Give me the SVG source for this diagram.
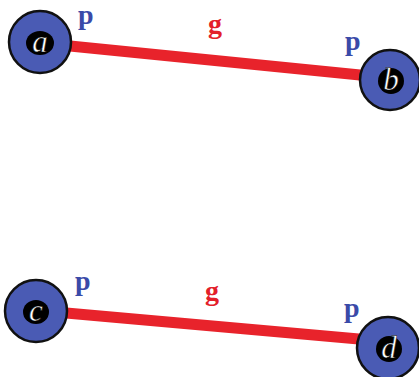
<svg xmlns="http://www.w3.org/2000/svg" width="419" height="377" viewBox="0 0 419 377">
<style>
.node{fill:#4a5bb4;stroke:#111;stroke-width:2.5}
.core{fill:#000}
.nl{font-family:"Liberation Serif","Times New Roman",serif;font-style:italic;font-size:31px;fill:#fff;stroke:#000;stroke-width:0.5;text-anchor:middle}
.p{font-family:"Liberation Serif","Times New Roman",serif;font-weight:bold;font-size:28px;fill:#3a4aa8}
.g{font-family:"Liberation Serif","Times New Roman",serif;font-weight:bold;font-size:28px;fill:#e3202a}
.edge{stroke:#e8232b;stroke-width:11;fill:none}
</style>
<rect width="419" height="377" fill="#fff"/>
<g id="connectors">
<line class="edge" x1="60" y1="45" x2="370" y2="76"/>
<line class="edge" x1="55" y1="312" x2="370" y2="340"/>
</g>
<g id="labels">
<text class="p" x="78" y="24">p</text>
<text class="g" x="208" y="33">g</text>
<text class="p" x="345" y="50">p</text>
<text class="p" x="75" y="290">p</text>
<text class="g" x="205" y="300">g</text>
<text class="p" x="344" y="317">p</text>
</g>
<g id="a"><circle class="node" cx="40" cy="42" r="31"/><ellipse class="core" cx="40" cy="43" rx="14" ry="12"/><text class="nl" x="40" y="52">a</text></g>
<g id="b"><circle class="node" cx="390" cy="80" r="30"/><ellipse class="core" cx="391" cy="81" rx="13" ry="13"/><text class="nl" x="391" y="90">b</text></g>
<g id="c"><circle class="node" cx="36" cy="311" r="31"/><ellipse class="core" cx="36" cy="312" rx="13" ry="12"/><text class="nl" x="36" y="321">c</text></g>
<g id="d"><circle class="node" cx="388" cy="348" r="31"/><ellipse class="core" cx="389" cy="349" rx="13" ry="13"/><text class="nl" x="389" y="358">d</text></g>
</svg>
